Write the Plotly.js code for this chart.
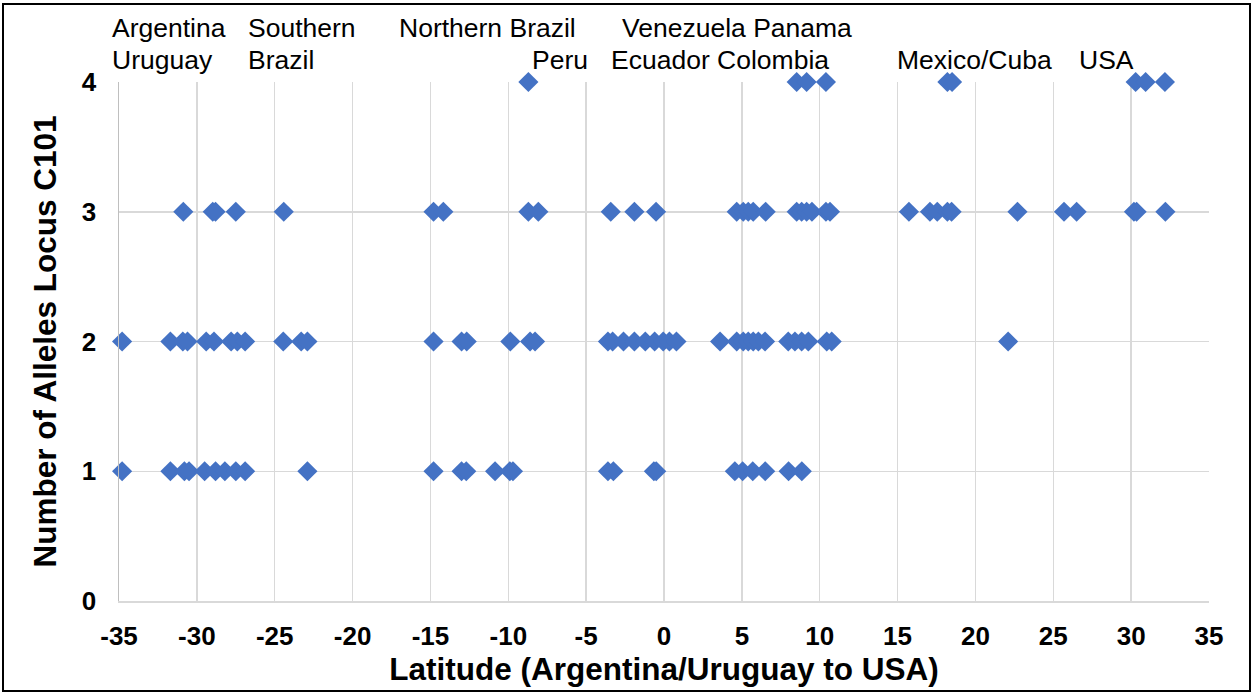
<!DOCTYPE html>
<html>
<head>
<meta charset="utf-8">
<script src="https://cdn.plot.ly/plotly-3.0.1.min.js"></script>
<style>
html,body{margin:0;padding:0;background:#fff;}
#wrap{position:relative;width:1255px;height:694px;}
#chart{width:1255px;height:694px;}
#frame{position:absolute;left:2px;top:3px;width:1249px;height:689px;border:2px solid #000;box-sizing:border-box;pointer-events:none;}
</style>
</head>
<body>
<div id="wrap"><div id="chart"></div><div id="frame"></div></div>
<script>
// Latitudes of samples, grouped by number of alleles at locus C101
const lat1 = [-34.8, -31.7, -30.8, -30.5, -29.5, -28.8, -28.2, -27.5, -26.9, -22.9, -14.8, -13.0, -12.7, -10.85, -9.9, -9.7, -3.6, -3.25, -0.65, -0.5, 4.55, 5.05, 5.7, 6.5, 8.0, 8.85];
const lat2 = [-34.8, -31.7, -30.9, -30.6, -29.4, -28.9, -27.8, -27.4, -26.9, -24.45, -23.3, -22.9, -14.8, -13.0, -12.67, -9.87, -8.6, -8.28, -3.6, -3.3, -2.6, -1.9, -1.2, -0.6, -0.05, 0.35, 0.8, 3.6, 4.67, 5.09, 5.41, 5.73, 6.06, 6.49, 7.98, 8.41, 8.84, 9.27, 10.45, 10.77, 22.1];
const lat3 = [-30.87, -28.98, -28.8, -27.5, -24.42, -14.8, -14.17, -8.71, -8.07, -3.42, -1.9, -0.51, 4.67, 5.09, 5.41, 5.73, 6.53, 8.52, 8.84, 9.16, 9.5, 10.4, 10.66, 15.73, 17.08, 17.55, 18.2, 18.47, 22.7, 25.69, 26.5, 30.18, 30.35, 32.2];
const lat4 = [-8.71, 8.52, 9.16, 10.4, 18.2, 18.5, 30.29, 30.93, 32.17];
const alleleCounts = [1, 2, 3, 4];
const xTicks = [-35, -30, -25, -20, -15, -10, -5, 0, 5, 10, 15, 20, 25, 30, 35];
const yTicks = [0, 1, 2, 3, 4];
const regionLabels = ["Argentina", "Southern", "Northern Brazil", "Venezuela Panama", "Uruguay", "Brazil", "Peru", "Ecuador Colombia", "Mexico/Cuba", "USA"];

const groups = [lat1, lat2, lat3, lat4];
const xs = [], ys = [];
groups.forEach((g, i) => g.forEach(v => { xs.push(v); ys.push(alleleCounts[i]); }));

const L = 119, R = 1209, T = 82, B = 601;
const FONT = 'Liberation Sans, Arial, sans-serif';
const labelPos = [[110, 1], [246, 1], [397, 1], [620, 1], [110, 2], [246, 2], [530, 2], [609, 2], [895, 2], [1077, 2]];
const annotations = regionLabels.map((t, i) => ({
  text: t, xref: 'paper', yref: 'paper',
  x: (labelPos[i][0] - L) / (R - L),
  y: (B - (labelPos[i][1] === 1 ? 28 : 60)) / (B - T),
  xanchor: 'left', yanchor: 'middle', showarrow: false,
  font: {family: FONT, size: 26.5, color: '#000'}
}));

const trace = {
  x: xs, y: ys, type: 'scatter', mode: 'markers',
  marker: {symbol: 'diamond', size: 15.5, color: '#4472C4'},
  cliponaxis: false, hoverinfo: 'x+y'
};

const layout = {
  width: 1255, height: 694,
  margin: {l: L, r: 1255 - R, t: T, b: 694 - B, pad: 0},
  paper_bgcolor: '#fff', plot_bgcolor: '#fff',
  showlegend: false,
  font: {family: FONT, color: '#000'},
  xaxis: {
    range: [-35, 35], tickvals: xTicks, ticktext: xTicks.map(String),
    showgrid: true, gridcolor: '#d9d9d9', gridwidth: 1.5, zeroline: false,
    showline: true, linecolor: '#d9d9d9', linewidth: 1.5,
    ticks: '', ticklabelstandoff: 11,
    tickfont: {size: 26, family: FONT, weight: 'bold', color: '#000'},
    title: {text: '<b>Latitude (Argentina/Uruguay to USA)</b>', font: {size: 31.5, color: '#000'}, standoff: 6}
  },
  yaxis: {
    range: [0, 4], tickvals: yTicks, ticktext: yTicks.map(String),
    showgrid: true, gridcolor: '#d9d9d9', gridwidth: 1.5, zeroline: false,
    showline: true, linecolor: '#bfbfbf', linewidth: 1.5,
    ticks: '', ticklabelstandoff: 16,
    tickfont: {size: 26, family: FONT, weight: 'bold', color: '#000'},
    title: {text: '<b>Number of Alleles Locus C101</b>', font: {size: 31.5, color: '#000'}, standoff: 16}
  },
  annotations: annotations
};

Plotly.newPlot('chart', [trace], layout, {displayModeBar: false, staticPlot: true});
</script>
</body>
</html>
